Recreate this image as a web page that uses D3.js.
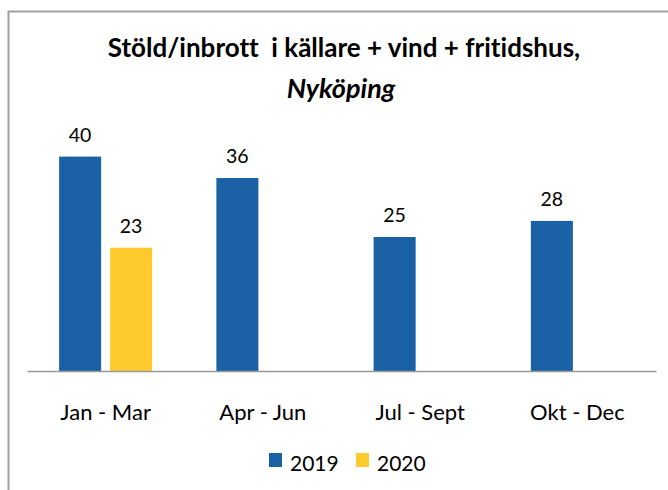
<!DOCTYPE html>
<html>
<head>
<meta charset="utf-8">
<script src="https://cdn.jsdelivr.net/npm/d3@7"></script>
<style>
  body { margin: 0; background: #fff; }
  svg { display: block; font-family: Lato, "Open Sans", sans-serif; font-variant-ligatures: none; }
  text { white-space: pre; }
</style>
</head>
<body>
<svg id="chart" width="668" height="490"></svg>
<script>
// data
var quarters = ["Jan - Mar", "Apr - Jun", "Jul - Sept", "Okt - Dec"];
var years = ["2019", "2020"];
var values2019 = [40, 36, 25, 28];
var values2020 = [23, null, null, null];
var colors = ["#1a61a6", "#ffca2e"];

var svg = d3.select("#chart");
var W = 668, H = 490;

// frame (only left + top are visible in the shot)
svg.append("path")
  .attr("d", "M8.5," + H + "V11.5H" + W)
  .attr("fill", "none").attr("stroke", "#a0a0a0").attr("stroke-width", 2);

// title
var title = svg.append("text").attr("text-anchor", "middle").attr("fill", "#000");
title.append("tspan").attr("x", 344).attr("y", 57)
  .attr("font-weight", "bold").attr("font-size", 26)
  .text("Stöld/inbrott  i källare + vind + fritidshus,");
title.append("tspan").attr("x", 341).attr("y", 98)
  .attr("font-weight", "bold").attr("font-style", "italic").attr("font-size", 27)
  .text("Nyköping");

var x0 = d3.scaleBand().domain(quarters).range([27, 656]);
var x1 = d3.scaleBand().domain(years).range([0, x0.bandwidth()])
  .paddingInner(0.176).paddingOuter(0.63);
var y = d3.scaleLinear().domain([0, 45]).range([371, 129.8]);

var rows = [];
quarters.forEach(function(q, i) {
  rows.push({q: q, year: "2019", v: values2019[i], c: colors[0]});
  rows.push({q: q, year: "2020", v: values2020[i], c: colors[1]});
});
rows = rows.filter(function(d) { return d.v != null; });

svg.append("g").selectAll("rect").data(rows).enter().append("rect")
  .attr("x", function(d) { return x0(d.q) + x1(d.year); })
  .attr("y", function(d) { return y(d.v); })
  .attr("width", x1.bandwidth())
  .attr("height", function(d) { return y(0) - y(d.v); })
  .attr("fill", function(d) { return d.c; });

svg.append("g").selectAll("text").data(rows).enter().append("text")
  .attr("x", function(d) { return x0(d.q) + x1(d.year) + x1.bandwidth() / 2; })
  .attr("y", function(d) { return y(d.v) - 15; })
  .attr("text-anchor", "middle").attr("font-size", 19.5).attr("fill", "#000")
  .text(function(d) { return d.v; });

// category axis
var xAxis = d3.axisBottom(x0).tickSize(0).tickPadding(0);
var ax = svg.append("g").attr("transform", "translate(0," + y(0) + ")").call(xAxis);
ax.select(".domain").attr("stroke", "#999").attr("stroke-width", 1.5);
ax.selectAll(".tick text")
  .attr("y", 49).attr("dy", 0)
  .attr("font-size", 22).attr("font-family", "Lato, sans-serif").attr("fill", "#000");

// legend
var legend = svg.append("g");
var lx = [269, 356];
years.forEach(function(yr, i) {
  legend.append("rect").attr("x", lx[i]).attr("y", 453)
    .attr("width", 13).attr("height", 14).attr("fill", colors[i]);
  legend.append("text").attr("x", lx[i] + 21).attr("y", 471)
    .attr("font-size", 21).attr("fill", "#000").text(yr);
});
</script>
</body>
</html>
